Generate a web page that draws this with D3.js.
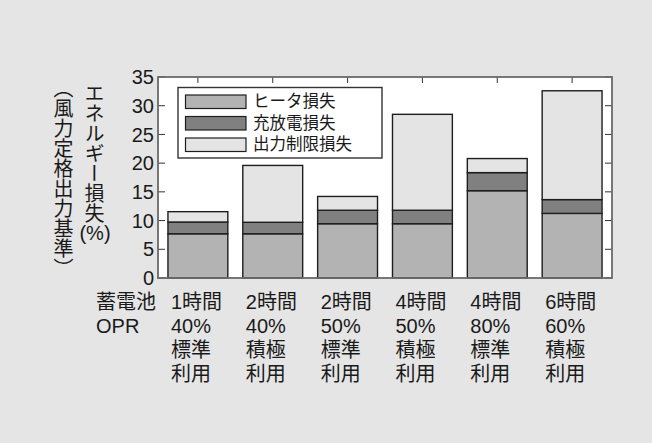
<!DOCTYPE html>
<html>
<head>
<meta charset="utf-8">
<script src="https://cdn.jsdelivr.net/npm/d3@7"></script>
<style>
  html, body { margin: 0; padding: 0; background: #e5e5e5; }
  svg { display: block; }
  text { font-family: "Liberation Sans", "Noto Sans CJK JP", sans-serif; fill: #1a1a1a; }
</style>
</head>
<body>
<svg id="chart" width="652" height="443"></svg>
<script>
// Category label rows (battery capacity, OPR, usage mode)
const hours  = ["1時間", "2時間", "2時間", "4時間", "4時間", "6時間"];
const oprs   = ["40%", "40%", "50%", "50%", "80%", "60%"];
const modes  = ["標準", "積極", "標準", "積極", "標準", "積極"];
const usage  = ["利用", "利用", "利用", "利用", "利用", "利用"];
const rowHeads = ["蓄電池", "OPR"];

// Loss components (% of rated wind output)
const heaterLoss   = [7.7, 7.7, 9.45, 9.45, 15.2, 11.25];
const chargeLoss   = [2.05, 2.0, 2.35, 2.35, 3.15, 2.4];
const curtailLoss  = [1.8, 9.9, 2.4, 16.7, 2.45, 18.95];

const seriesNames  = ["ヒータ損失", "充放電損失", "出力制限損失"];
const seriesColors = ["#b3b3b3", "#808080", "#e4e4e4"];
const yTicks = [0, 5, 10, 15, 20, 25, 30, 35];

const rows = hours.map((h, i) => ({
  key: i, heater: heaterLoss[i], charge: chargeLoss[i], curtail: curtailLoss[i]
}));
const keys = ["heater", "charge", "curtail"];

const svg = d3.select("#chart");
const plotL = 158, plotR = 612, plotT = 77, plotB = 278;

const x = d3.scaleBand()
  .domain(d3.range(hours.length))
  .range([plotL, plotR])
  .paddingInner(0.2)
  .paddingOuter(0.133);
const y = d3.scaleLinear().domain([0, 35]).range([plotB, plotT]);

// plot area
svg.append("rect")
  .attr("x", plotL).attr("y", plotT)
  .attr("width", plotR - plotL).attr("height", plotB - plotT)
  .attr("fill", "#ffffff");

// inward ticks on all four sides
const tickG = svg.append("g").attr("stroke", "#333").attr("stroke-width", 1);
yTicks.forEach(t => {
  tickG.append("line").attr("x1", plotL).attr("x2", plotL + 7).attr("y1", y(t)).attr("y2", y(t));
  tickG.append("line").attr("x1", plotR - 7).attr("x2", plotR).attr("y1", y(t)).attr("y2", y(t));
});
x.domain().forEach(i => {
  const cx = x(i) + x.bandwidth() / 2;
  tickG.append("line").attr("x1", cx).attr("x2", cx).attr("y1", plotT).attr("y2", plotT + 6);
  tickG.append("line").attr("x1", cx).attr("x2", cx).attr("y1", plotB - 6).attr("y2", plotB);
});

// stacked bars
const stacked = d3.stack().keys(keys)(rows);
svg.append("g").selectAll("g")
  .data(stacked)
  .join("g")
  .attr("fill", (d, i) => seriesColors[i])
  .selectAll("rect")
  .data(d => d)
  .join("rect")
  .attr("x", d => x(d.data.key))
  .attr("y", d => y(d[1]))
  .attr("width", x.bandwidth())
  .attr("height", d => y(d[0]) - y(d[1]))
  .attr("stroke", "#1e1e1e")
  .attr("stroke-width", 1.4);

// frame
svg.append("rect")
  .attr("x", plotL).attr("y", plotT)
  .attr("width", plotR - plotL).attr("height", plotB - plotT)
  .attr("fill", "none")
  .attr("stroke", "#6a6a6a")
  .attr("stroke-width", 1.8);

// y tick labels
svg.append("g").selectAll("text")
  .data(yTicks)
  .join("text")
  .attr("x", plotL - 4)
  .attr("y", d => y(d))
  .attr("dy", "0.36em")
  .attr("text-anchor", "end")
  .attr("font-size", 20)
  .text(d => d);

// category labels (four rows, left-aligned under each bar)
const rowY = [309, 333, 357, 381];
[hours, oprs, modes, usage].forEach((arr, r) => {
  svg.append("g").selectAll("text")
    .data(arr)
    .join("text")
    .attr("x", (d, i) => x(i) + 3)
    .attr("y", rowY[r])
    .attr("font-size", 20)
    .text(d => d);
});
rowHeads.forEach((t, r) => {
  svg.append("text")
    .attr("x", 96).attr("y", rowY[r])
    .attr("font-size", 20)
    .text(t);
});

// y axis title, written vertically
svg.append("text")
  .attr("x", 93).attr("y", 83)
  .attr("font-size", 20)
  .style("writing-mode", "vertical-rl")
  .attr("font-family", "Noto Sans CJK JP")
  .text("エネルギー損失");
svg.append("text")
  .attr("x", 95).attr("y", 233)
  .attr("dy", "0.36em")
  .attr("text-anchor", "middle")
  .attr("font-size", 20)
  .text("(%)");
svg.append("text")
  .attr("x", 62).attr("y", 78)
  .attr("font-size", 20)
  .style("writing-mode", "vertical-rl")
  .attr("font-family", "Noto Sans CJK JP")
  .text("（風力定格出力基準）");

// legend
const lg = svg.append("g");
lg.append("rect")
  .attr("x", 178).attr("y", 87.5)
  .attr("width", 204).attr("height", 70.5)
  .attr("fill", "#ffffff")
  .attr("stroke", "#333")
  .attr("stroke-width", 1.4);
seriesNames.forEach((name, i) => {
  const cy = 101.5 + i * 21.5;
  lg.append("rect")
    .attr("x", 185.5).attr("y", cy - 6.5)
    .attr("width", 60.5).attr("height", 13.5)
    .attr("fill", seriesColors[i])
    .attr("stroke", "#1e1e1e")
    .attr("stroke-width", 1.2);
  lg.append("text")
    .attr("x", 253).attr("y", cy)
    .attr("dy", "0.36em")
    .attr("font-size", 16.5)
    .text(name);
});
</script>
</body>
</html>
